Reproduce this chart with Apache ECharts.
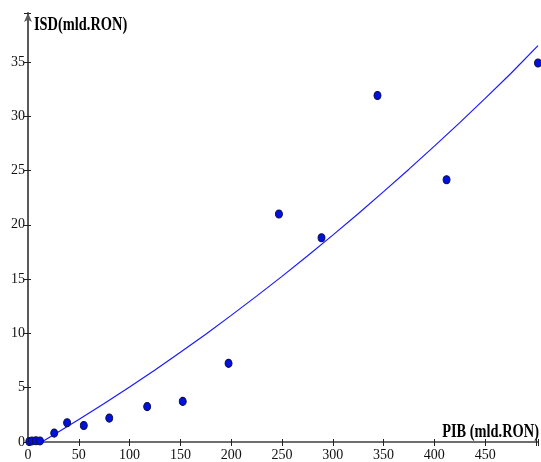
<!DOCTYPE html>
<html>
<head>
<meta charset="utf-8">
<script src="https://cdn.jsdelivr.net/npm/echarts@6/dist/echarts.min.js"></script>
<style>html,body{margin:0;padding:0;background:#fff}#c{width:541px;height:462px}</style>
</head>
<body>
<div id="c"></div>
<script>
// Observed data: PIB (mld.RON) vs ISD (mld.RON)
const pibValues = [1.3, 3.9, 7.8, 11.8, 25.8, 38.5, 54.9, 80, 117.3, 152.3, 197.4, 247, 288.9, 344, 412, 502];
const isdValues = [0.05, 0.1, 0.12, 0.1, 0.82, 1.77, 1.52, 2.2, 3.26, 3.74, 7.24, 21.0, 18.8, 31.9, 24.14, 34.9];
// Trend curve
const trendX = [13.4, 25, 50, 75, 100, 125, 150, 175, 200, 225, 250, 275, 300, 325, 350, 375, 400, 425, 450, 475, 502];
const trendY = [0, 0.64, 2.07, 3.54, 5.06, 6.64, 8.26, 9.93, 11.66, 13.43, 15.25, 17.13, 19.05, 21.02, 23.05, 25.12, 27.24, 29.41, 31.64, 33.91, 36.5];
const xTicks = [0, 50, 100, 150, 200, 250, 300, 350, 400, 450];
const yTicks = [0, 5, 10, 15, 20, 25, 30, 35];

const font = '"Liberation Serif", "Times New Roman", serif';
const chart = echarts.init(document.getElementById('c'));
const scatterData = pibValues.map((x, i) => [x, isdValues[i]]);
const trendData = trendX.map((x, i) => [x, trendY[i]]);

const baseX = {
  type: 'value', min: 0, max: 502, interval: 50, gridIndex: 0, position: 'bottom',
  splitLine: { show: false }
};
const baseY = {
  type: 'value', min: 0, max: 39.5, interval: 5, gridIndex: 0, position: 'left',
  splitLine: { show: false }
};

chart.setOption({
  animation: false,
  backgroundColor: '#ffffff',
  grid: { left: 28, right: 1, top: 13, bottom: 17, containLabel: false },
  xAxis: [
    Object.assign({}, baseX, {
      axisLine: { show: true, lineStyle: { color: '#6e6e6e', width: 2 } },
      axisTick: { show: true, length: 4, lineStyle: { color: '#222', width: 1 } },
      axisLabel: {
        show: true, margin: 6, color: '#111', fontFamily: font, fontSize: 14,
        formatter: v => (xTicks.indexOf(v) >= 0 ? String(v) : '')
      }
    }),
    Object.assign({}, baseX, {
      axisLine: { show: false },
      axisTick: { show: true, inside: true, length: 3, lineStyle: { color: '#222', width: 1 } },
      axisLabel: { show: false }
    })
  ],
  yAxis: [
    Object.assign({}, baseY, {
      axisLine: { show: true, symbol: ['none', 'arrow'], symbolSize: [6, 9], lineStyle: { color: '#5a5a5a', width: 2 } },
      axisTick: { show: true, length: 4, lineStyle: { color: '#222', width: 1 } },
      axisLabel: {
        show: true, margin: 3, color: '#111', fontFamily: font, fontSize: 14,
        formatter: v => (yTicks.indexOf(v) >= 0 ? String(v) : '')
      }
    }),
    Object.assign({}, baseY, {
      axisLine: { show: false },
      axisTick: { show: true, inside: true, length: 3, lineStyle: { color: '#222', width: 1 } },
      axisLabel: { show: false }
    })
  ],
  graphic: [
    {
      type: 'text', x: 34, y: 16, scaleX: 0.8,
      style: { text: 'ISD(mld.RON)', font: 'bold 18px ' + font, fill: '#000', textVerticalAlign: 'top' }
    },
    {
      type: 'text', x: 539, y: 423, scaleX: 0.8,
      style: { text: 'PIB (mld.RON)', font: 'bold 18px ' + font, fill: '#000', textAlign: 'right', textVerticalAlign: 'top' }
    }
  ],
  series: [
    {
      type: 'line', xAxisIndex: 0, yAxisIndex: 0, data: trendData, smooth: false,
      showSymbol: false, symbol: 'none',
      lineStyle: { color: '#1a1aff', width: 1.2 }, z: 2
    },
    {
      type: 'scatter', xAxisIndex: 0, yAxisIndex: 0, data: scatterData,
      symbol: 'circle', symbolSize: [7, 8],
      itemStyle: { color: '#0010e0', borderColor: '#101040', borderWidth: 1, opacity: 1 }, z: 3
    }
  ]
});
</script>
</body>
</html>
